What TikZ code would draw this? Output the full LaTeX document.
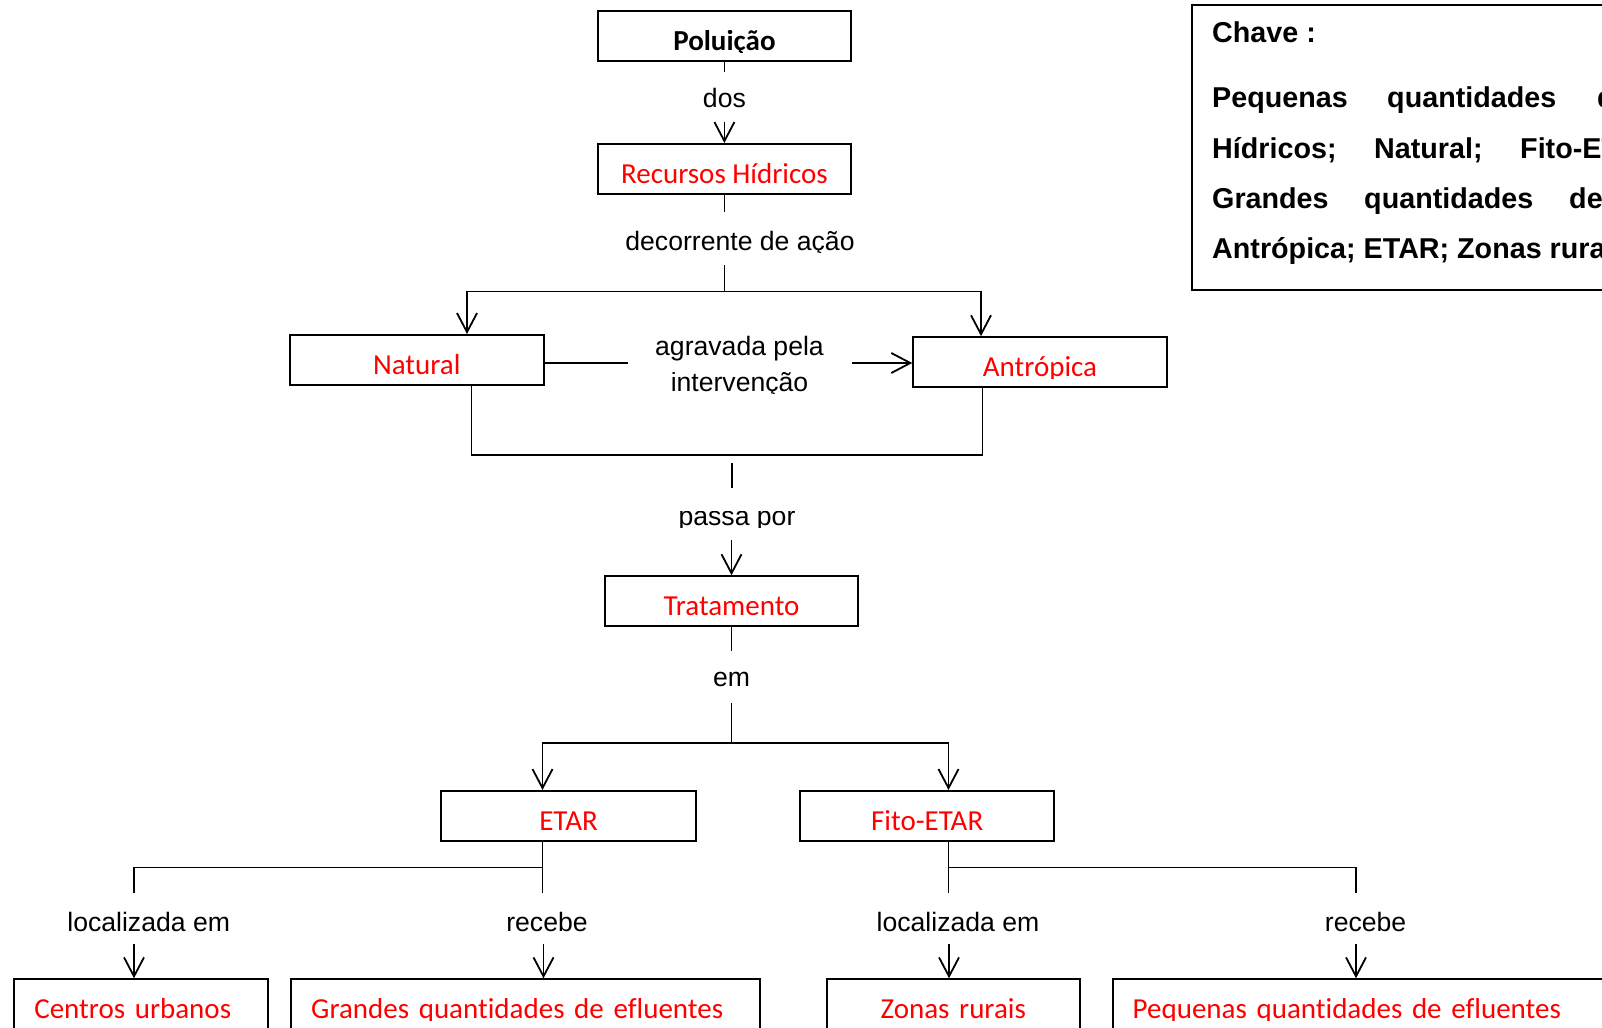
\documentclass[tikz,border=0pt]{standalone}
\usepackage{fontspec}
\setmainfont{Liberation Sans}
\newfontfamily\cali[Ligatures=NoCommon]{Carlito}
\usepackage{trimclip}
\usetikzlibrary{arrows.meta}

% text boxes cut their last line just under the baseline
\newcommand\lowcut[1]{\clipbox{0pt {\depth-2pt} 0pt 0pt}{#1}}

\tikzset{
  ln/.style={line width=1.8pt},
  arr/.style={ln, -{Straight Barb[length=19pt, width=20pt]}},
  arrboth/.style={ln, {Straight Barb[length=19pt, width=20pt]}-{Straight Barb[length=19pt, width=20pt]}},
  lbl/.style={anchor=base, inner sep=0pt, font=\fontsize{26.6}{32}\selectfont},
  cbox/.style={draw, line width=2pt, inner sep=0pt, minimum width=253.5pt,
    minimum height=50pt, text height=33pt, text depth=4pt, text=red,
    font=\cali\fontsize{29}{35}\selectfont},
  bbox/.style={draw, line width=2pt, anchor=north west, inner ysep=0pt, inner xsep=20pt,
    minimum height=60pt, text height=28pt, text depth=9pt, align=left, text=red,
    font=\cali\fontsize{29}{35}\selectfont},
  keyw/.style={anchor=base west, inner sep=0pt, font=\bfseries\fontsize{28.7}{34}\selectfont},
}

\begin{document}
\begin{tikzpicture}[x=1pt, y=-1pt]
\path[use as bounding box] (0,0) rectangle (1602,1027);
\clip (0,0) rectangle (1602,1027);

% concept boxes
\node[cbox, text=black, font=\cali\bfseries\fontsize{29}{35}\selectfont] (pol) at (724.4,36) {\lowcut{Poluição}};
\node[cbox] (rh) at (724.4,169) {Recursos Hídricos};
\node[cbox] (nat) at (416.8,360) {Natural};
\node[cbox] (ant) at (1040,362.2) {\lowcut{Antrópica}};
\node[cbox] (trat) at (731.5,601.2) {Tratamento};
\node[cbox, minimum width=254.5pt] (etar) at (568.6,816) {ETAR};
\node[cbox, minimum width=254.5pt] (fito) at (927.2,816) {Fito-ETAR};

\node[bbox, text width=213.5pt] (cu) at (13.3,978.3) {Centros urbanos};
\node[bbox, text width=428.8pt] (gr) at (290.2,978.3) {\lowcut{Grandes quantidades de efluentes}};
\node[bbox, align=center, text width=213.5pt] (zr) at (825.5,978.3) {Zonas rurais};
\node[bbox, text width=520pt] (pq) at (1111.7,978.3) {\lowcut{Pequenas quantidades de efluentes}};

% linking words
\node[lbl] (dos) at (724.4,108) {dos};
\node[lbl] (dec) at (740,250) {\lowcut{decorrente de ação}};
\node[lbl] (ag1) at (739.5,355.5) {agravada pela};
\node[lbl] (ag2) at (739.5,391.5) {\lowcut{intervenção}};
\node[lbl] (pp) at (737,525.5) {\lowcut{passa por}};
\node[lbl] (em) at (731.5,686) {em};
\node[lbl] (loc1) at (148.7,931.5) {localizada em};
\node[lbl] (rec1) at (547,931.5) {recebe};
\node[lbl] (loc2) at (958,931.5) {localizada em};
\node[lbl] (rec2) at (1365.6,931.5) {recebe};

% Poluição -> Recursos Hídricos
\coordinate (c1) at (724.4,72);
\coordinate (c2) at (724.4,122);
\draw[ln] (pol.south) -- (c1);
\draw[arr] (c2) -- (rh.north);

% Recursos Hídricos -> Natural / Antrópica
\coordinate (c3) at (724.4,212);
\coordinate (c4) at (724.4,265);
\coordinate (hl) at (467,291.5);
\coordinate (hr) at (981,291.5);
\draw[ln] (rh.south) -- (c3);
\draw[ln] (c4) -- (c4 |- hl);
\draw[arrboth] (hl |- nat.north) -- (hl) -- (hr) -- (hr |- ant.north);

% Natural -> Antrópica
\coordinate (g1) at (628,363);
\coordinate (g2) at (852,363);
\draw[ln] (g1 -| nat.east) -- (g1);
\draw[arr] (g2) -- (g2 -| ant.west);

% Natural + Antrópica -> Tratamento
\coordinate (bl) at (471.5,455);
\coordinate (br) at (982.5,455);
\draw[ln] (bl |- nat.south) -- (bl) -- (br) -- (br |- ant.south);
\coordinate (p1) at (732,463);
\coordinate (p2) at (732,488);
\coordinate (p3) at (731.5,540);
\draw[ln] (p1) -- (p2);
\draw[arr] (p3) -- (trat.north);

% Tratamento -> ETAR / Fito-ETAR
\coordinate (e1) at (731.5,651);
\coordinate (e2) at (731.5,703);
\coordinate (eL) at (542.5,743);
\coordinate (eR) at (948.5,743);
\draw[ln] (trat.south) -- (e1);
\draw[ln] (e2) -- (e2 |- eL);
\draw[arrboth] (eL |- etar.north) -- (eL) -- (eR) -- (eR |- fito.north);

% ETAR -> Centros urbanos / Grandes quantidades
\coordinate (f1) at (542.5,893);
\coordinate (fl) at (134,867.5);
\coordinate (fl2) at (134,893);
\draw[ln] (f1 |- etar.south) -- (f1);
\draw[ln] (fl2) -- (fl) -- (fl -| f1);
\coordinate (a1) at (134,944);
\coordinate (a2) at (543.5,944);
\draw[arr] (a1) -- (a1 |- cu.north);
\draw[arr] (a2) -- (a2 |- gr.north);

% Fito-ETAR -> Zonas rurais / Pequenas quantidades
\coordinate (k1) at (948.5,893);
\coordinate (kr) at (1356,867.5);
\coordinate (kr2) at (1356,893);
\draw[ln] (k1 |- fito.south) -- (k1);
\draw[ln] (k1 |- kr) -- (kr) -- (kr2);
\coordinate (a3) at (949,944);
\coordinate (a4) at (1356,944);
\draw[arr] (a3) -- (a3 |- zr.north);
\draw[arr] (a4) -- (a4 |- pq.north);

% key
\node[draw, line width=2pt, anchor=north west, minimum width=520pt, minimum height=285pt, inner sep=0pt] (key) at (1191,4) {};
\node[keyw] (kh) at (1212,42.7) {Chave :};
\node[keyw] (k1a) at (1212,108) {Pequenas};
\node[keyw] (k1b) at (1387,108) {quantidades};
\node[keyw] (k1c) at (1597,108) {de};
\node[keyw] (k2a) at (1212,158.3) {Hídricos;};
\node[keyw] (k2b) at (1374,158.3) {Natural;};
\node[keyw] (k2c) at (1520,158.3) {Fito-ETAR;};
\node[keyw] (k3a) at (1212,208.5) {Grandes};
\node[keyw] (k3b) at (1364,208.5) {quantidades};
\node[keyw] (k3c) at (1569,208.5) {de};
\node[keyw] (k4) at (1212,258) {Antrópica; ETAR; Zonas rurais};
\end{tikzpicture}
\end{document}
